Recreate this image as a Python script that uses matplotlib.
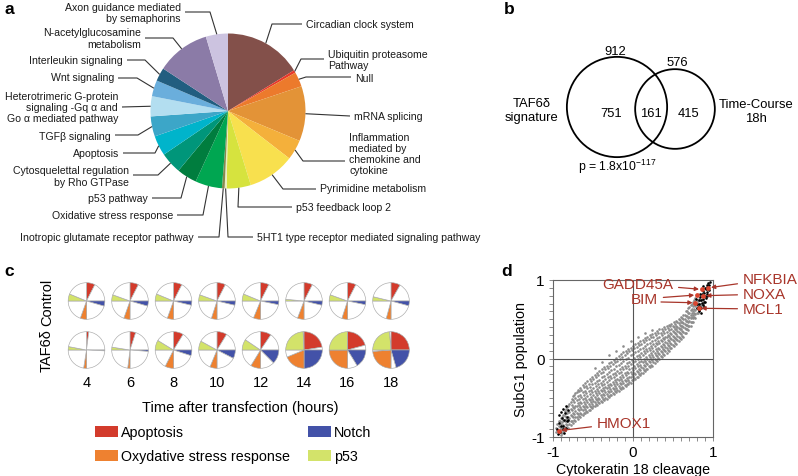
import numpy as np
import matplotlib
matplotlib.use("Agg")
import matplotlib.pyplot as plt
from matplotlib.patches import Circle, Patch
from matplotlib.ticker import MultipleLocator

plt.rcParams['font.family'] = ['Liberation Sans', 'DejaVu Sans']
plt.rcParams['mathtext.fontset'] = 'custom'
plt.rcParams['mathtext.rm'] = 'Liberation Sans'
plt.rcParams['mathtext.it'] = 'Liberation Sans:italic'
plt.rcParams['mathtext.bf'] = 'Liberation Sans:bold'

W, H = 798, 477

# ---------------- Panel a data ----------------
pathways = ['Circadian clock system', 'Ubiquitin proteasome\nPathway', 'Null', 'mRNA splicing',
            'Inflammation\nmediated by\nchemokine and\ncytokine', 'Pyrimidine metabolism',
            'p53 feedback loop 2', '5HT1 type receptor mediated signaling pathway',
            'Inotropic glutamate receptor pathway', 'Oxidative stress response', 'p53 pathway',
            'Cytosquelettal regulation\nby Rho GTPase', 'Apoptosis', 'TGFβ signaling',
            'Heterotrimeric G-protein\nsignaling -Gq α and\nGo α mediated pathway',
            'Wnt signaling', 'Interleukin signaling', 'N-acetylglucosamine\nmetabolism',
            'Axon guidance mediated\nby semaphorins']
pathway_share = [58, 2, 11, 41, 15, 35, 18, 1.5, 2, 20, 15, 16, 15, 15, 15, 12, 10, 40, 16.5]
pathway_colors = ['#83504A', '#E8392A', '#EC7A2C', '#E39337', '#F4B03B', '#F8E04E', '#D6E33E',
                  '#E9EEC0', '#86884E', '#00A651', '#007D3E', '#00967A', '#00B4CB', '#3CA6C8',
                  '#B3DEF0', '#6AAEDC', '#225E80', '#8B7BA7', '#CCC3E0']

# ---------------- Panel b data ----------------
set_names = ['TAF6δ\nsignature', 'Time-Course\n18h']
set_totals = [912, 576]
only_signature, overlap, only_timecourse = 751, 161, 415
p_value_label = 'p = 1.8x10$^{\\mathrm{-117}}$'

# ---------------- Panel c data ----------------
hours = [4, 6, 8, 10, 12, 14, 16, 18]
cat_names = ['Apoptosis', 'Oxydative stress response', 'Notch', 'p53']
cat_colors = {'Apoptosis': '#D33B2C', 'Notch': '#4352A8',
              'Oxydative stress response': '#EE8130', 'p53': '#D3E36A'}
control_apoptosis = [0.30, 0.30, 0.30, 0.30, 0.30, 0.30, 0.30, 0.33]
control_notch = [0.18, 0.18, 0.15, 0.15, 0.13, 0.15, 0.13, 0.17]
control_oxidative = [0.22, 0.22, 0.22, 0.20, 0.25, 0.23, 0.20, 0.17]
control_p53 = [0.25, 0.22, 0.25, 0.22, 0.25, 0.06, 0.22, 0.15]
taf_apoptosis = [0.08, 0.20, 0.35, 0.35, 0.38, 0.90, 0.83, 1.00]
taf_notch = [0.03, 0.05, 0.20, 0.30, 0.50, 1.00, 0.65, 0.82]
taf_oxidative = [0.10, 0.08, 0.30, 0.25, 0.35, 0.75, 1.00, 0.95]
taf_p53 = [0.12, 0.10, 0.35, 0.32, 0.38, 0.97, 1.00, 0.95]

# ---------------- Panel d data ----------------
gray_cols_x = [-0.96, -0.93, -0.90, -0.87, -0.84, -0.81, -0.78, -0.75, -0.72, -0.69, -0.66, -0.63,
               -0.60, -0.57, -0.54, -0.51, -0.48, -0.45, -0.42, -0.39, -0.36, -0.33, -0.30, -0.27,
               -0.24, -0.21, -0.18, -0.15, -0.12, -0.09, -0.06, -0.03, 0.00, 0.03, 0.06, 0.09,
               0.12, 0.15, 0.18, 0.21, 0.24, 0.27, 0.30, 0.33, 0.36, 0.39, 0.42, 0.45, 0.48,
               0.51, 0.54, 0.57, 0.60, 0.63, 0.66, 0.69, 0.72, 0.75, 0.78, 0.81, 0.84, 0.87]
gray_cols_y = [
    [-0.93, -0.88], [-0.95, -0.86, -0.80], [-0.97, -0.90, -0.83, -0.76],
    [-0.92, -0.85, -0.78, -0.72], [-0.90, -0.84, -0.77, -0.70, -0.64],
    [-0.88, -0.80, -0.74, -0.67, -0.60], [-0.85, -0.79, -0.72, -0.64, -0.56],
    [-0.82, -0.75, -0.70, -0.62, -0.53, -0.48], [-0.80, -0.74, -0.67, -0.60, -0.50, -0.44],
    [-0.77, -0.71, -0.64, -0.57, -0.48, -0.40], [-0.74, -0.69, -0.62, -0.55, -0.46, -0.37],
    [-0.72, -0.66, -0.60, -0.52, -0.43, -0.34], [-0.70, -0.64, -0.58, -0.50, -0.41, -0.31],
    [-0.68, -0.62, -0.56, -0.48, -0.38, -0.29], [-0.66, -0.60, -0.53, -0.45, -0.36, -0.26],
    [-0.63, -0.58, -0.51, -0.43, -0.33, -0.24], [-0.61, -0.55, -0.49, -0.41, -0.31, -0.21, -0.12],
    [-0.59, -0.53, -0.47, -0.39, -0.29, -0.19], [-0.57, -0.51, -0.44, -0.36, -0.27, -0.16],
    [-0.55, -0.49, -0.42, -0.34, -0.24, -0.14, -0.04], [-0.53, -0.47, -0.40, -0.32, -0.22, -0.11],
    [-0.51, -0.45, -0.38, -0.30, -0.20, -0.09], [-0.49, -0.43, -0.36, -0.27, -0.17, -0.06, 0.05],
    [-0.47, -0.41, -0.34, -0.25, -0.15, -0.04], [-0.45, -0.39, -0.32, -0.23, -0.13, -0.02],
    [-0.43, -0.37, -0.30, -0.21, -0.10, 0.01, 0.10], [-0.41, -0.35, -0.28, -0.19, -0.08, 0.03],
    [-0.39, -0.33, -0.26, -0.17, -0.06, 0.06], [-0.37, -0.31, -0.24, -0.14, -0.03, 0.08, 0.16],
    [-0.35, -0.29, -0.21, -0.12, -0.01, 0.10], [-0.33, -0.27, -0.19, -0.10, 0.01, 0.12],
    [-0.31, -0.24, -0.17, -0.07, 0.04, 0.14, 0.22], [-0.28, -0.22, -0.15, -0.05, 0.06, 0.16],
    [-0.26, -0.20, -0.12, -0.03, 0.08, 0.18], [-0.24, -0.17, -0.10, 0.00, 0.10, 0.20, 0.27],
    [-0.21, -0.15, -0.08, 0.02, 0.12, 0.22], [-0.19, -0.12, -0.05, 0.04, 0.14, 0.24],
    [-0.16, -0.10, -0.03, 0.07, 0.16, 0.26, 0.32], [-0.14, -0.07, 0.00, 0.09, 0.18, 0.28],
    [-0.11, -0.05, 0.02, 0.11, 0.20, 0.30], [-0.09, -0.02, 0.05, 0.13, 0.22, 0.31, 0.36],
    [-0.06, 0.00, 0.07, 0.16, 0.24, 0.33], [-0.03, 0.03, 0.10, 0.18, 0.26, 0.35],
    [0.00, 0.06, 0.12, 0.20, 0.28, 0.37], [0.02, 0.08, 0.15, 0.22, 0.30, 0.38],
    [0.05, 0.11, 0.17, 0.25, 0.32, 0.40], [0.07, 0.14, 0.20, 0.27, 0.34, 0.41],
    [0.10, 0.16, 0.22, 0.29, 0.36, 0.43], [0.13, 0.19, 0.25, 0.31, 0.38, 0.44],
    [0.16, 0.22, 0.28, 0.34, 0.40, 0.46], [0.19, 0.25, 0.31, 0.37, 0.42, 0.48],
    [0.22, 0.28, 0.34, 0.39, 0.45, 0.50], [0.25, 0.31, 0.37, 0.42, 0.47, 0.53],
    [0.28, 0.34, 0.40, 0.45, 0.50, 0.56], [0.32, 0.38, 0.43, 0.48, 0.54, 0.60],
    [0.36, 0.42, 0.47, 0.52, 0.58, 0.64], [0.41, 0.46, 0.51, 0.56, 0.62, 0.68],
    [0.46, 0.51, 0.56, 0.61, 0.67, 0.72], [0.52, 0.57, 0.62, 0.67, 0.72, 0.77],
    [0.58, 0.63, 0.68, 0.73], [0.64, 0.69, 0.74], [0.70, 0.75]]
gray2_cols_x = [-0.945, -0.915, -0.885, -0.855, -0.825, -0.795, -0.765, -0.735, -0.705, -0.675,
                -0.645, -0.615, -0.585, -0.555, -0.525, -0.495, -0.465, -0.435, -0.405, -0.375,
                -0.345, -0.315, -0.285, -0.255, -0.225, -0.195, -0.165, -0.135, -0.105, -0.075,
                -0.045, -0.015, 0.015, 0.045, 0.075, 0.105, 0.135, 0.165, 0.195, 0.225,
                0.255, 0.285, 0.315, 0.345, 0.375, 0.405, 0.435, 0.465, 0.495, 0.525,
                0.555, 0.585, 0.615, 0.645, 0.675, 0.705, 0.735, 0.765, 0.795, 0.825, 0.855]
gray2_cols_y = [
    [-0.91, -0.84], [-0.93, -0.87, -0.79], [-0.89, -0.81, -0.74, -0.95],
    [-0.87, -0.80, -0.73, -0.67], [-0.85, -0.78, -0.70, -0.62], [-0.83, -0.76, -0.68, -0.58],
    [-0.80, -0.73, -0.66, -0.59, -0.51], [-0.78, -0.71, -0.63, -0.56, -0.47],
    [-0.75, -0.69, -0.61, -0.53, -0.43], [-0.73, -0.66, -0.59, -0.51, -0.41],
    [-0.71, -0.64, -0.57, -0.49, -0.40], [-0.69, -0.62, -0.55, -0.46, -0.36],
    [-0.67, -0.60, -0.53, -0.44, -0.35], [-0.65, -0.58, -0.51, -0.42, -0.32],
    [-0.62, -0.56, -0.49, -0.40, -0.29], [-0.60, -0.54, -0.46, -0.37, -0.26],
    [-0.58, -0.52, -0.44, -0.35, -0.23], [-0.56, -0.50, -0.42, -0.33, -0.21],
    [-0.54, -0.47, -0.40, -0.31, -0.19], [-0.52, -0.45, -0.38, -0.29, -0.17],
    [-0.50, -0.43, -0.36, -0.26, -0.14], [-0.48, -0.41, -0.34, -0.24, -0.12],
    [-0.46, -0.39, -0.32, -0.22, -0.10], [-0.44, -0.37, -0.30, -0.20, -0.07],
    [-0.42, -0.35, -0.28, -0.18, -0.05], [-0.40, -0.33, -0.26, -0.16, -0.03],
    [-0.38, -0.31, -0.23, -0.13, 0.00], [-0.36, -0.29, -0.21, -0.11, 0.02],
    [-0.34, -0.27, -0.19, -0.09, 0.05], [-0.32, -0.25, -0.17, -0.06, 0.07],
    [-0.30, -0.23, -0.14, -0.04, 0.09], [-0.27, -0.20, -0.12, -0.02, 0.11],
    [-0.25, -0.18, -0.10, 0.01, 0.13], [-0.23, -0.16, -0.07, 0.03, 0.15],
    [-0.20, -0.13, -0.05, 0.05, 0.17], [-0.18, -0.11, -0.03, 0.07, 0.19],
    [-0.15, -0.08, 0.00, 0.10, 0.21], [-0.13, -0.06, 0.02, 0.12, 0.23],
    [-0.10, -0.03, 0.04, 0.14, 0.25], [-0.08, -0.01, 0.07, 0.16, 0.27],
    [-0.05, 0.02, 0.09, 0.18, 0.28], [-0.02, 0.05, 0.12, 0.20, 0.30],
    [0.01, 0.07, 0.14, 0.22, 0.32], [0.03, 0.10, 0.16, 0.24, 0.33],
    [0.06, 0.12, 0.19, 0.26, 0.35], [0.09, 0.15, 0.21, 0.28, 0.37],
    [0.11, 0.17, 0.24, 0.30, 0.39], [0.14, 0.20, 0.26, 0.33, 0.41],
    [0.17, 0.23, 0.29, 0.35, 0.42], [0.20, 0.26, 0.32, 0.38, 0.44],
    [0.23, 0.29, 0.35, 0.40, 0.46], [0.26, 0.32, 0.38, 0.43, 0.49],
    [0.29, 0.35, 0.41, 0.46, 0.52], [0.33, 0.39, 0.44, 0.50, 0.56],
    [0.37, 0.43, 0.48, 0.54, 0.60], [0.42, 0.48, 0.53, 0.58, 0.65],
    [0.47, 0.53, 0.58, 0.63, 0.69], [0.53, 0.58, 0.63, 0.69, 0.74],
    [0.58, 0.64, 0.70, 0.75], [0.64, 0.70, 0.76], [0.68, 0.74, 0.80]]
black_x = [0.80, 0.82, 0.84, 0.86, 0.88, 0.90, 0.92, 0.94, 0.96, 0.81, 0.83, 0.85, 0.87, 0.89,
           0.91, 0.93, 0.95, 0.82, 0.84, 0.86, 0.88, 0.90, 0.92, 0.94, 0.83, 0.85, 0.87, 0.89,
           0.91, 0.93, 0.95, 0.79, 0.84, 0.88, 0.92, 0.90, 0.86, 0.80, 0.85, 0.89,
           -0.95, -0.93, -0.91, -0.89, -0.87, -0.85, -0.83, -0.81, -0.94, -0.92, -0.90, -0.88,
           -0.86, -0.84, -0.82, -0.90, -0.87, -0.84, -0.81, -0.86]
black_y = [0.70, 0.74, 0.78, 0.82, 0.86, 0.90, 0.93, 0.96, 0.97, 0.66, 0.70, 0.74, 0.79, 0.84,
           0.88, 0.91, 0.94, 0.62, 0.66, 0.71, 0.76, 0.80, 0.85, 0.89, 0.60, 0.64, 0.68, 0.72,
           0.77, 0.82, 0.87, 0.76, 0.82, 0.92, 0.80, 0.72, 0.88, 0.64, 0.58, 0.66,
           -0.90, -0.82, -0.93, -0.76, -0.86, -0.70, -0.80, -0.66, -0.96, -0.72, -0.86, -0.90,
           -0.78, -0.88, -0.74, -0.68, -0.64, -0.60, -0.78, -0.95]
genes = ['NFKBIA', 'NOXA', 'MCL1', 'GADD45A', 'BIM', 'BIM', 'HMOX1']
gene_x = [0.94, 0.88, 0.82, 0.86, 0.80, 0.78, -0.93]
gene_y = [0.90, 0.80, 0.64, 0.88, 0.81, 0.71, -0.92]

# ---------------- figure ----------------
fig = plt.figure(figsize=(W / 100, H / 100), dpi=100)
ax0 = fig.add_axes([0, 0, 1, 1])


def Y(py):
    return H - py


# ---- panel a ----
cx, cy, R = 228, 112, 77.5
wedges, _ = ax0.pie(pathway_share, colors=pathway_colors, startangle=90, counterclock=False,
                    radius=R, center=(cx, Y(cy)), frame=True, wedgeprops=dict(linewidth=0))
# (side, text x, text y, leader y, elbow x)
label_layout = [('R', 306, 25, 25, 272), ('R', 328, 60.5, 60, 301), ('R', 355, 79, 78, 306),
                ('R', 354, 117, 117, None), ('R', 349, 154.5, 162, 303), ('R', 320, 189, 190, 283),
                ('R', 296, 208, 208, 238), ('R', 257, 238, 238, 228), ('L', 194, 238, 238, 219),
                ('L', 173, 216, 216, 203), ('L', 148, 199, 199, 181), ('L', 129, 177, 176, 158),
                ('L', 119, 154, 154, 155), ('L', 111, 137, 136, 138), ('L', 118, 108, 108, None),
                ('L', 114, 78, 79, 137), ('L', 123, 61, 61, 145), ('L', 141, 39, 39, 173),
                ('L', 181, 13.5, 13, 210)]
for w, name, (side, tx, ty, ly, ex) in zip(wedges, pathways, label_layout):
    mid = np.deg2rad((w.theta1 + w.theta2) / 2)
    ax_ = cx + R * np.cos(mid)
    ay_ = Y(cy) + R * np.sin(mid)
    lx = tx + 4 if side == 'L' else tx - 4
    if ex is None:
        xs, ys = [ax_, lx], [ay_, Y(ly)]
    else:
        xs, ys = [ax_, ex, lx], [ay_, Y(ly), Y(ly)]
    ax0.plot(xs, ys, color='#333333', lw=0.8, solid_capstyle='butt')
    ax0.text(tx, Y(ty), name, ha='right' if side == 'L' else 'left', va='center',
             multialignment='right' if side == 'L' else 'left', fontsize=7.6,
             linespacing=1.15, color='#1a1a1a')

# ---- panel b ----
k = 1.66
r1, r2 = k * np.sqrt(set_totals[0]), k * np.sqrt(set_totals[1])
c1 = (617, 108)
c2 = (675, 110)
ax0.add_patch(Circle((c1[0], Y(c1[1])), r1, fill=False, ec='black', lw=1.3))
ax0.add_patch(Circle((c2[0], Y(c2[1])), r2, fill=False, ec='black', lw=1.3))
fb = 9.4
ax0.text(615, Y(52), str(set_totals[0]), ha='center', va='center', fontsize=fb)
ax0.text(677, Y(63), str(set_totals[1]), ha='center', va='center', fontsize=fb)
ax0.text(611, Y(114), str(only_signature), ha='center', va='center', fontsize=fb)
ax0.text(651, Y(114), str(overlap), ha='center', va='center', fontsize=fb)
ax0.text(689, Y(114), str(only_timecourse), ha='center', va='center', fontsize=fb)
ax0.text(532, Y(111), set_names[0], ha='center', va='center', fontsize=fb, linespacing=1.3)
ax0.text(756, Y(112), set_names[1], ha='center', va='center', fontsize=fb, linespacing=1.3)
ax0.text(617, Y(171), p_value_label, ha='center', va='baseline', fontsize=8.8)

# ---- panel c ----
rows = [(302, [control_apoptosis, control_notch, control_oxidative, control_p53]),
        (351, [taf_apoptosis, taf_notch, taf_oxidative, taf_p53])]
qcols = [cat_colors['Apoptosis'], 'white', cat_colors['Notch'], 'white',
         cat_colors['Oxydative stress response'], 'white', cat_colors['p53'], 'white']
for ry, (ap, no, ox, p5) in rows:
    for i, h in enumerate(hours):
        px = 86.5 + (h - 4) * 21.75
        vals = [ap[i], 1 - ap[i], no[i], 1 - no[i], ox[i], 1 - ox[i], p5[i], 1 - p5[i]]
        ax0.pie(vals, colors=qcols, startangle=90, counterclock=False, radius=18.3,
                center=(px, Y(ry)), frame=True,
                wedgeprops=dict(edgecolor='#a8a8a8', linewidth=0.45))
for h in hours:
    px = 86.5 + (h - 4) * 21.75
    ax0.text(px, Y(383), str(h), ha='center', va='center', fontsize=10.5)
ax0.text(47, Y(302), 'Control', rotation=90, ha='center', va='center', fontsize=10.5)
ax0.text(47, Y(351), 'TAF6δ', rotation=90, ha='center', va='center', fontsize=10.5)
ax0.text(240, Y(408), 'Time after transfection (hours)', ha='center', va='center', fontsize=10.5)
handles = [Patch(facecolor=cat_colors[c], edgecolor='none', label=c) for c in cat_names]
fig.legend(handles=handles, ncol=2, loc='upper left', bbox_to_anchor=(95 / W, 1 - 426 / H),
           frameon=False, fontsize=10.3, handlelength=1.6, handleheight=0.8,
           handletextpad=0.25, columnspacing=1.2, labelspacing=0.7, borderpad=0,
           borderaxespad=0)

# panel letters
for letter, (lx_, ly_) in zip('abcd', [(9, 9), (509, 9), (9, 272), (507, 272)]):
    ax0.text(lx_, Y(ly_), letter, ha='center', va='center', fontsize=12.5, fontweight='bold')

ax0.set_xlim(0, W)
ax0.set_ylim(0, H)
ax0.set_aspect('auto')
ax0.axis('off')

# ---- panel d ----
axd = fig.add_axes([553 / W, (H - 438) / H, 160 / W, 157 / H])
gx = [x for x, ys in zip(gray_cols_x, gray_cols_y) for _ in ys]
gy = [y for ys in gray_cols_y for y in ys]
g2x = [x for x, ys in zip(gray2_cols_x, gray2_cols_y) for _ in ys]
g2y = [y for x, ys in zip(gray2_cols_x, gray2_cols_y) for y in ys]
axd.scatter(gx + g2x, gy + g2y, s=3.5, c='#8c8c8c', linewidths=0)
axd.scatter(black_x, black_y, s=3.5, c='black', linewidths=0, zorder=3)
axd.scatter(gene_x, gene_y, s=12, c='#D9452F', linewidths=0, zorder=5)
axd.axhline(0, color='#555555', lw=0.8, zorder=1)
axd.axvline(0, color='#555555', lw=0.8, zorder=1)
axd.set_xlim(-1, 1)
axd.set_ylim(-1, 1)
axd.set_xticks([-1, 0, 1])
axd.set_yticks([-1, 0, 1])
axd.set_xticklabels(['-1', '0', '1'])
axd.set_yticklabels(['-1', '0', '1'])
axd.xaxis.set_minor_locator(MultipleLocator(0.1))
axd.yaxis.set_minor_locator(MultipleLocator(0.1))
axd.tick_params(which='both', direction='out', length=3, width=0.6, color='#777777',
                labelsize=11, pad=3)
for s in axd.spines.values():
    s.set_color('#666666')
    s.set_linewidth(0.8)
axd.set_xlabel('Cytokeratin 18 cleavage', fontsize=10.3, labelpad=2)
axd.set_ylabel('SubG1 population', fontsize=10.3, labelpad=2)

red = '#A8352A'
gene_text = {'NFKBIA': (1.375, 1.01, 'left'), 'NOXA': (1.375, 0.82, 'left'),
             'MCL1': (1.375, 0.63, 'left'), 'GADD45A': (0.5, 0.95, 'right'),
             'BIM': (0.31, 0.76, 'right'), 'HMOX1': (-0.45, -0.82, 'left')}
done = set()
for g, x, y in zip(genes, gene_x, gene_y):
    tx, ty, ha = gene_text[g]
    if g in done:
        axd.annotate('', xy=(x, y), xytext=(tx + 0.04, ty - 0.04), annotation_clip=False,
                     arrowprops=dict(arrowstyle='-|>', color=red, lw=0.9, mutation_scale=6,
                                     shrinkA=0, shrinkB=2))
        continue
    done.add(g)
    axd.annotate(g, xy=(x, y), xytext=(tx, ty), ha=ha, va='center', color=red,
                 fontsize=11, annotation_clip=False,
                 arrowprops=dict(arrowstyle='-|>', color=red, lw=0.9, mutation_scale=6,
                                 shrinkA=2, shrinkB=2))

fig.savefig('out.png', dpi=100)
